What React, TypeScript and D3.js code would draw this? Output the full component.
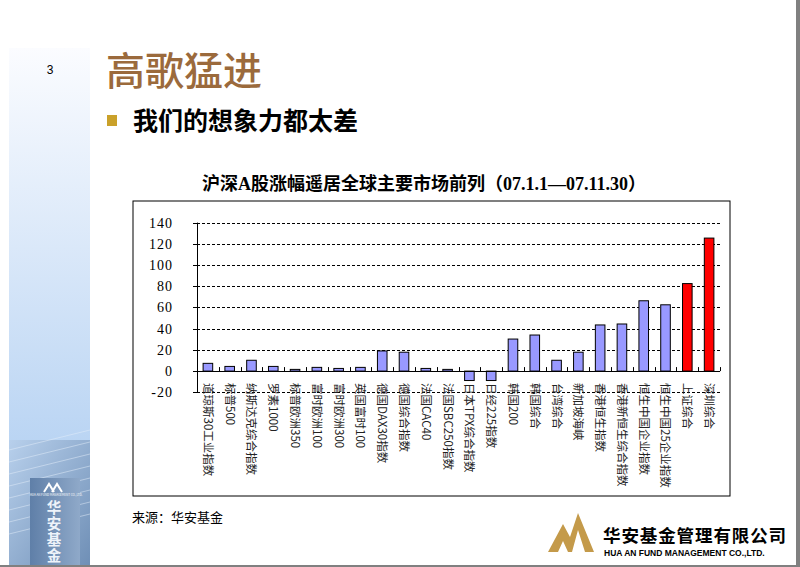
import React from 'react';
import * as d3 from 'd3';

const categories = [
  '道琼斯30工业指数', '标普500', '纳斯达克综合指数', '罗素1000', '标普欧洲350',
  '富时欧洲100', '富时欧洲300', '英国富时100', '德国DAX30指数', '德国综合指数',
  '法国CAC40', '法国SBC250指数', '日本TPX综合指数', '日经225指数', '韩国200',
  '韩国综合', '台湾综合', '新加坡海峡', '香港恒生指数', '香港新恒生综合指数',
  '恒生中国企业指数', '恒生中国25企业指数', '上证综合', '深圳综合',
];
const gains = [
  7.3, 4.4, 10.2, 4.4, 1.6, 3.5, 2.5, 3.5, 19, 17.8, 2.5, 1.6, -8.9, -8.9, 30.2,
  34, 10.2, 17.8, 43.5, 44.4, 66.3, 62.5, 82.5, 125.4,
];
const highlighted = ['上证综合', '深圳综合'];
const yTicks = [-20, 0, 20, 40, 60, 80, 100, 120, 140];

const title = '沪深A股涨幅遥居全球主要市场前列（07.1.1—07.11.30）';

const App = () => {
  const x = d3.scaleBand<string>().domain(categories).range([197, 720]).paddingInner(0.56).paddingOuter(0.28);
  const y = d3.scaleLinear().domain([-20, 140]).range([392.3, 222.6]);
  const step = x.step();
  const x0 = 197;
  const cjk = '"Noto Sans CJK SC", sans-serif';

  return (
    <svg width={800} height={567} style={{ position: 'absolute', left: 0, top: 0 }}>
      <defs>
        <linearGradient id='side' x1='0' y1='0' x2='0' y2='1'>
          <stop offset='0' stopColor='#fbfcff' />
          <stop offset='1' stopColor='#b9d4f3' />
        </linearGradient>
        <linearGradient id='bld' x1='0' y1='0' x2='1' y2='1'>
          <stop offset='0' stopColor='#b8d0ec' />
          <stop offset='1' stopColor='#6f8fb6' />
        </linearGradient>
        <linearGradient id='slab' x1='0' y1='0' x2='1' y2='0'>
          <stop offset='0' stopColor='#5f7fa8' />
          <stop offset='1' stopColor='#8fa9c9' />
        </linearGradient>
        <clipPath id='box'>
          <rect x={133} y={201} width={597} height={295} />
        </clipPath>
      </defs>
      <rect width={800} height={567} fill='#fff' />

      {/* left band + building photo */}
      <rect x={9} y={48} width={81} height={400} fill='url(#side)' />
      <rect x={9} y={440} width={81} height={125} fill='url(#bld)' />
      {d3.range(8).map(i => (
        <line key={i} x1={9} y1={450 + i * 12} x2={90} y2={430 + i * 12} stroke='#e4eefa' strokeOpacity={0.5} />
      ))}
      <rect x={30} y={478} width={50} height={87} fill='url(#slab)' />
      <path d='M44,492 L49,484 L54,492 M52,492 L57,484 L62,492' fill='none' stroke='#fff' strokeWidth={2} />
      <text x={56} y={496} fontSize={3} fill='#fff' textAnchor='middle' fontFamily={cjk}>HUA AN FUND MANAGEMENT CO.,LTD.</text>
      <text x={54} y={500} fontSize={14.5} fontWeight='bold' fill='#eef3fa' fontFamily={cjk}
        letterSpacing={1.5} style={{ writingMode: 'vertical-rl' }}>华安基金</text>

      <text x={50} y={74} fontSize={12} fontFamily='"Liberation Sans", sans-serif' textAnchor='middle'>3</text>
      <text x={106} y={85} fontSize={39} fill='#9b6a3c' fontFamily={cjk} fontWeight={500}>高歌猛进</text>
      <rect x={107} y={115} width={10} height={11} fill='#caa12a' />
      <text x={133} y={130} fontSize={25} fontWeight='bold' fontFamily={cjk}>我们的想象力都太差</text>

      <text x={424} y={190} fontSize={18} fontWeight='bold' textAnchor='middle'
        fontFamily={'"Liberation Serif", "Noto Sans CJK SC", serif'}>{title}</text>

      {/* chart frame */}
      <rect x={133} y={201} width={597} height={295} fill='none' stroke='#000' strokeWidth={1} />

      {yTicks.filter(t => t !== 0).map(t => (
        <line key={t} x1={x0} x2={720} y1={Math.round(y(t)) + 0.5} y2={Math.round(y(t)) + 0.5}
          stroke='#000' strokeDasharray='3,2' />
      ))}
      {yTicks.map(t => (
        <g key={'t' + t}>
          <line x1={x0 - 4} x2={x0} y1={Math.round(y(t)) + 0.5} y2={Math.round(y(t)) + 0.5} stroke='#000' />
          <text x={173} y={y(t)} dy='0.35em' textAnchor='end' fontSize={14} letterSpacing={1}
            fontFamily='"Liberation Serif", serif'>{t}</text>
        </g>
      ))}

      {categories.map((c, i) => {
        const v = gains[i];
        const top = y(Math.max(v, 0));
        const h = Math.abs(y(v) - y(0));
        return (
          <rect key={c} x={x(c)} y={top} width={x.bandwidth()} height={h}
            fill={highlighted.includes(c) ? '#ff0000' : '#9999ff'} stroke='#000' strokeWidth={1} />
        );
      })}

      <line x1={x0 + 0.5} x2={x0 + 0.5} y1={y(140)} y2={y(-20)} stroke='#000' />
      <line x1={x0} x2={720} y1={Math.round(y(0)) + 0.5} y2={Math.round(y(0)) + 0.5} stroke='#000' />
      {d3.range(categories.length + 1).map(i => (
        <line key={'xt' + i} x1={Math.round(x0 + step * i) + 0.5} x2={Math.round(x0 + step * i) + 0.5}
          y1={y(0)} y2={y(0) - 4} stroke='#000' />
      ))}

      <g clipPath='url(#box)'>
        {categories.map(c => {
          const cx = (x(c) ?? 0) + x.bandwidth() / 2;
          return (
            <text key={'l' + c} transform={`translate(${cx},383) rotate(90)`} fontSize={11.5}
              dy='0.35em' fontFamily={cjk} fill='#222'>{c}</text>
          );
        })}
      </g>

      <text x={132} y={522} fontSize={13} fontFamily={cjk}>来源：华安基金</text>

      {/* company logo */}
      <path d='M548,552 L563,524 L570,537 L578,513 L594,552 Z' fill='#c49a4a' />
      <path d='M558,552 L563,541 L568,552 Z M572,552 L578,530 L585,552 Z' fill='#fff' />
      <text x={603} y={542} fontSize={17.5} fontWeight='bold' fontFamily={cjk} letterSpacing={0.9}>华安基金管理有限公司</text>
      <text x={604} y={556} fontSize={8.5} fontWeight='bold' fontFamily='"Liberation Sans", sans-serif'>HUA AN FUND MANAGEMENT CO.,LTD.</text>

      <rect x={796} y={0} width={4} height={567} fill='#808080' />
      <rect x={0} y={565} width={800} height={2} fill='#808080' />
    </svg>
  );
};

export default App;
